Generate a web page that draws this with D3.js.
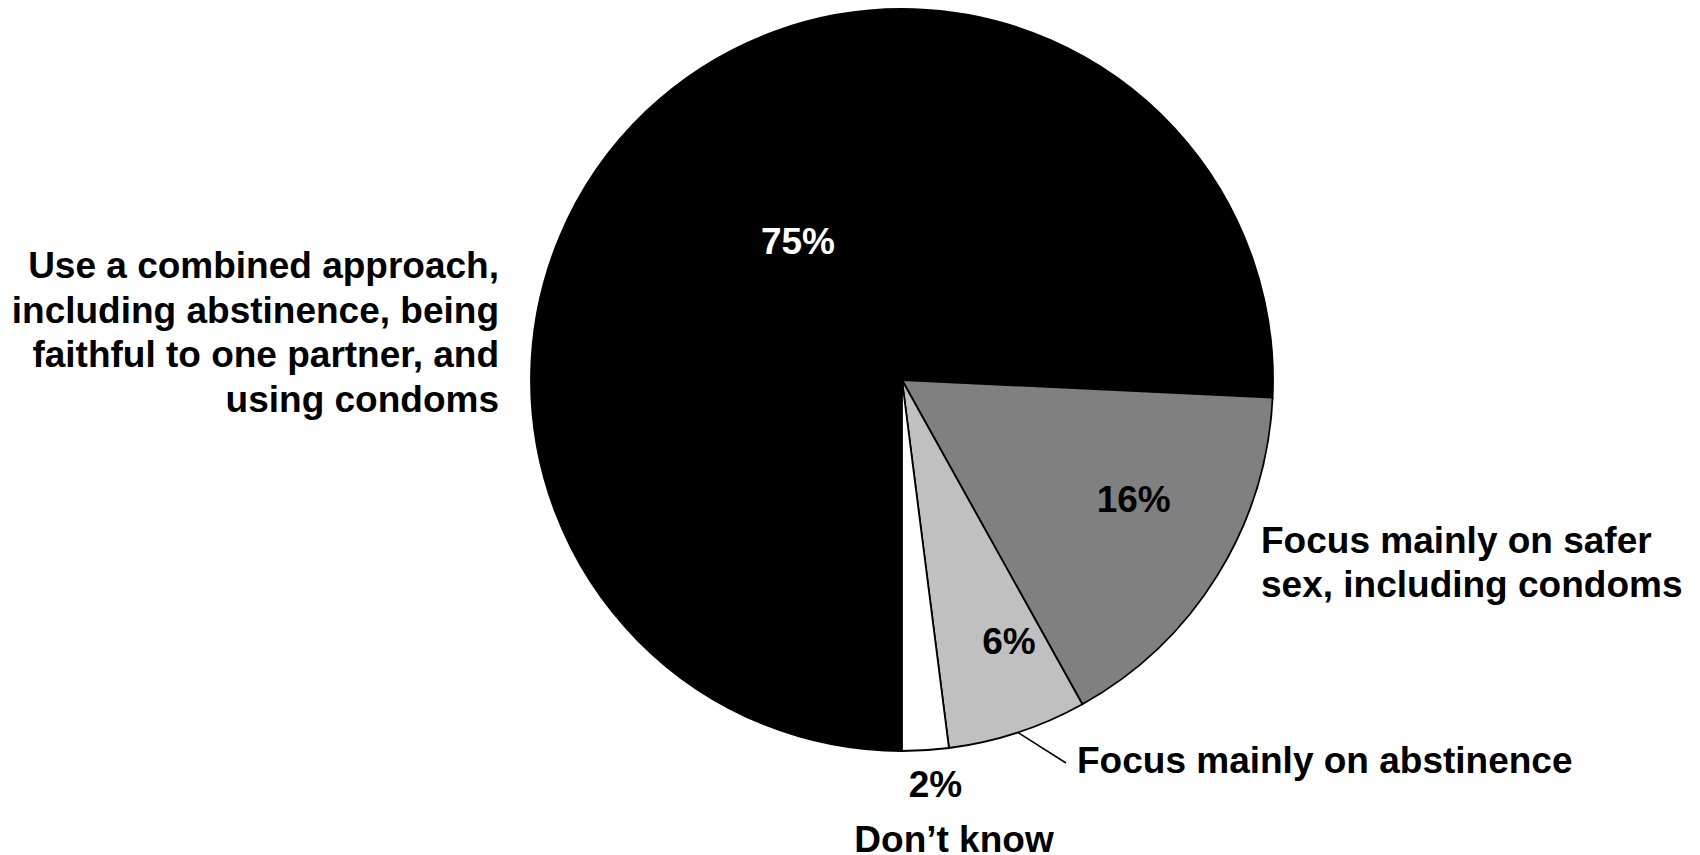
<!DOCTYPE html>
<html>
<head>
<meta charset="utf-8">
<script src="https://cdn.jsdelivr.net/npm/d3@7"></script>
<style>
  body { margin: 0; background: #fff; }
  text { font-family: "Liberation Sans", Arial, sans-serif; font-weight: bold; font-size: 37px; }
</style>
</head>
<body>
<script>
// data
var categories = ["Combined approach", "Safer sex", "Abstinence", "Don't know"];
var values = [75, 16, 6, 2];
var pctLabels = ["75%", "16%", "6%", "2%"];
var colors = ["#000000", "#808080", "#c0c0c0", "#ffffff"];
var textColors = ["#ffffff", "#000000", "#000000", "#000000"];
var leftLines = ["Use a combined approach,", "including abstinence, being", "faithful to one partner, and", "using condoms"];
var saferLines = ["Focus mainly on safer", "sex, including condoms"];
var abstLabel = "Focus mainly on abstinence";
var dkLabel = "Don\u2019t know";

var w = 1700, h = 855;
var cx = 902, cy = 380, r = 371;

var svg = d3.select("body").append("svg")
    .attr("width", w)
    .attr("height", h);

var pie = d3.pie()
    .sort(null)
    .startAngle(Math.PI)
    .endAngle(3 * Math.PI)
    .value(function(d) { return d; });

var arc = d3.arc().innerRadius(0).outerRadius(r);

var arcs = pie(values);

var g = svg.append("g").attr("transform", "translate(" + cx + "," + cy + ")");

g.selectAll("path")
  .data(arcs)
  .enter()
  .append("path")
  .attr("d", arc)
  .attr("fill", function(d, i) { return colors[i]; })
  .attr("stroke", "#000")
  .attr("stroke-width", 1.8)
  .attr("stroke-linejoin", "round");

// percentage labels inside slices (radius fraction + nudge per slice)
var labelR = [0.465, 0.70, 0.76];
var nudge = [[15, -14], [11, -18], [19, -7]];
arcs.slice(0, 3).forEach(function(d, i) {
  var a = (d.startAngle + d.endAngle) / 2;
  var rr = r * labelR[i];
  g.append("text")
    .attr("x", Math.sin(a) * rr + nudge[i][0])
    .attr("y", -Math.cos(a) * rr + 13 + nudge[i][1])
    .attr("text-anchor", "middle")
    .attr("fill", textColors[i])
    .text(pctLabels[i]);
});

// "2%" below the pie
var dk = arcs[3];
var dkA = (dk.startAngle + dk.endAngle) / 2;
g.append("text")
  .attr("x", Math.sin(dkA) * r + 10)
  .attr("y", 417)
  .attr("text-anchor", "middle")
  .text(pctLabels[3]);

g.append("text")
  .attr("x", 52)
  .attr("y", 472)
  .attr("text-anchor", "middle")
  .text(dkLabel);

// left label
var left = svg.append("text")
  .attr("text-anchor", "end");
leftLines.forEach(function(t, i) {
  left.append("tspan").attr("x", 499).attr("y", 278 + i * 44.5).text(t);
});

// right label
var right = svg.append("text");
saferLines.forEach(function(t, i) {
  right.append("tspan").attr("x", 1261).attr("y", 553 + i * 44).text(t);
});

// abstinence label with leader line
var ab = arcs[2];
var abA = (ab.startAngle + ab.endAngle) / 2;
var lx0 = Math.sin(abA) * r, ly0 = -Math.cos(abA) * r;
g.append("line")
  .attr("x1", lx0)
  .attr("y1", ly0)
  .attr("x2", 1066 - cx)
  .attr("y2", 763 - cy)
  .attr("stroke", "#000")
  .attr("stroke-width", 1.5);

svg.append("text")
  .attr("x", 1077)
  .attr("y", 773)
  .text(abstLabel);
</script>
</body>
</html>
